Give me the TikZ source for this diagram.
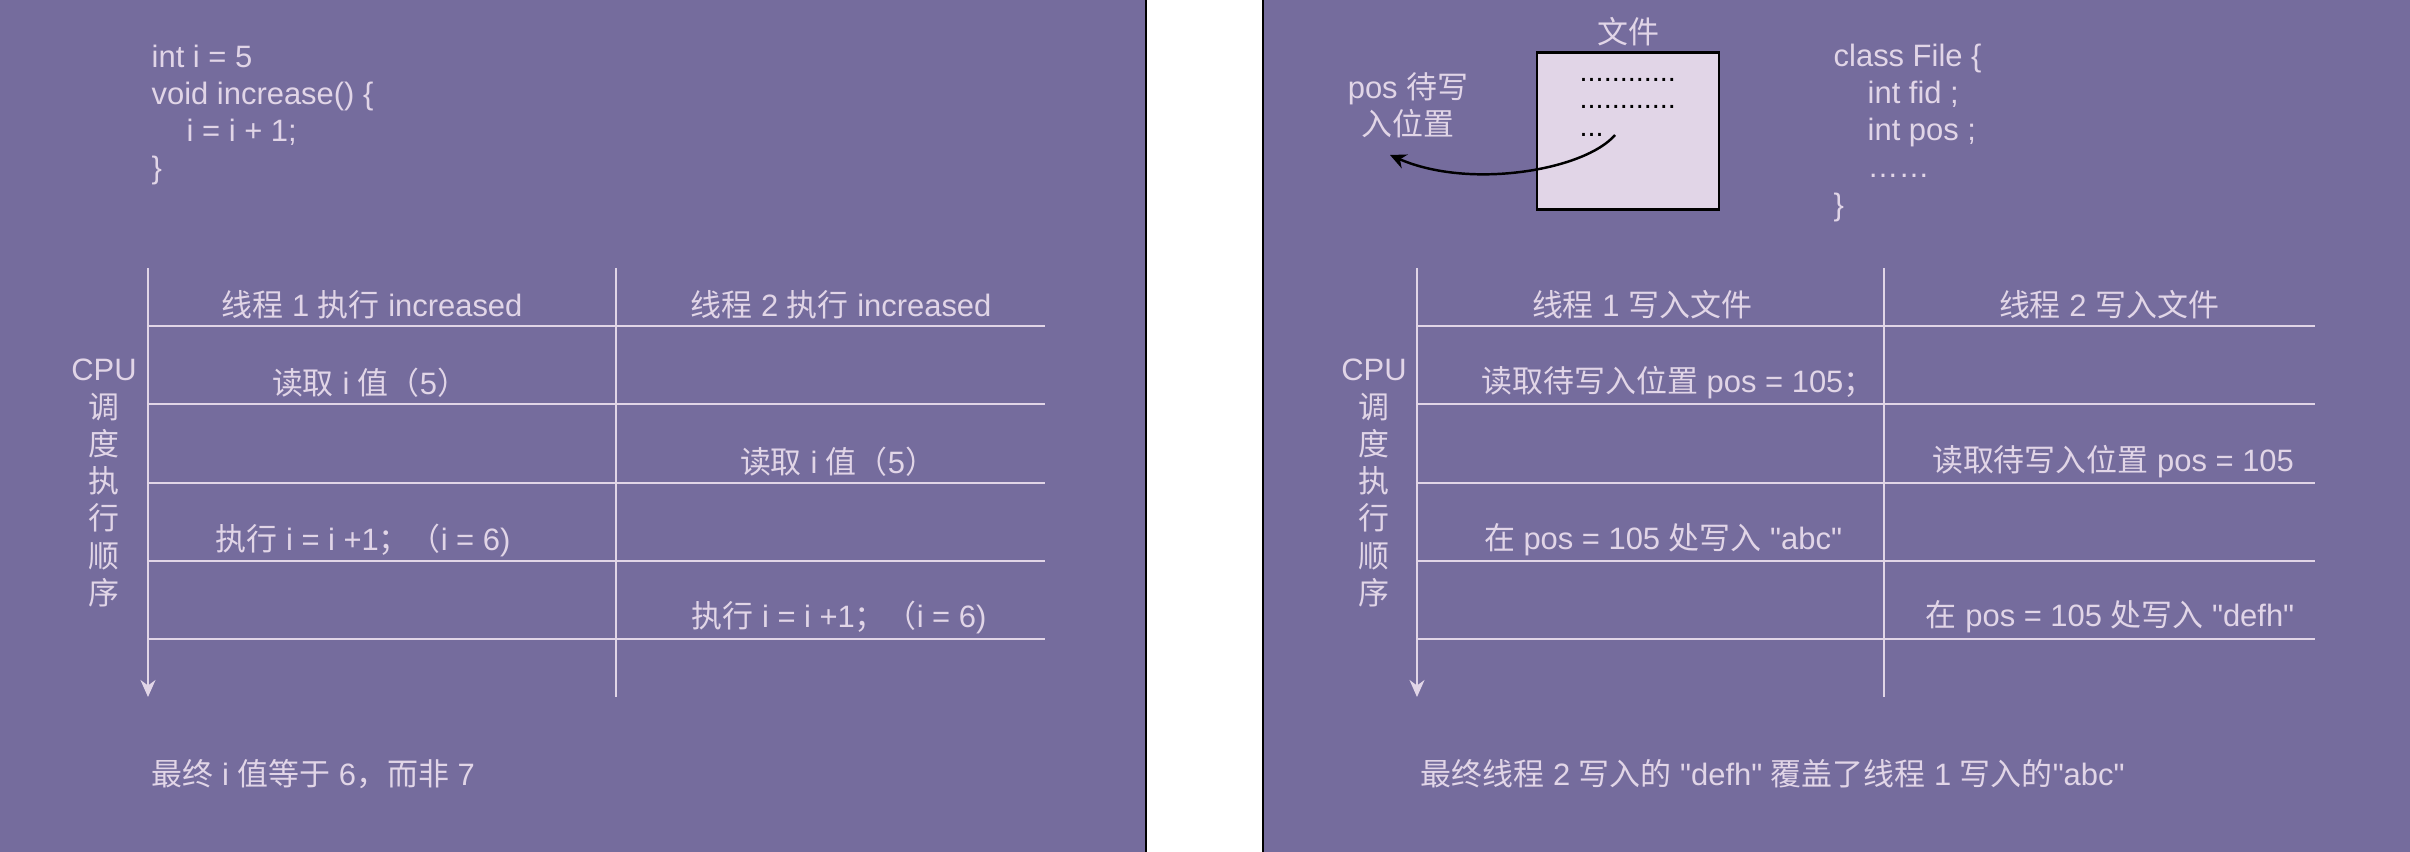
\documentclass[tikz,border=0pt]{standalone}
\usepackage{fontspec}
\setmainfont{Liberation Sans}[Ligatures=TeXOff]
\newfontfamily\zhfont{Noto Sans CJK SC}
\newcommand{\zh}[1]{{\zhfont #1}}
\newcommand{\diagfont}{\fontsize{8.8}{10.6}\selectfont}
\usepackage{xcolor}
\usepackage{tikz}
\usetikzlibrary{arrows.meta,positioning,calc}
\definecolor{panelpurple}{RGB}{117,108,157}
\definecolor{lilac}{RGB}{225,213,231}

\begin{document}
\begin{tikzpicture}[
    panel/.style={rectangle, draw=black, fill=panelpurple, line width=0.7pt},
    txt/.style={text=lilac, font=\diagfont, inner sep=0pt},
    codeblock/.style={txt, align=left, anchor=north west},
    rowline/.style={draw=lilac, line width=0.6pt},
    divider/.style={draw=lilac, line width=0.45pt},
    timeaxis/.style={divider, -{Stealth[length=1.7mm, width=1.5mm]}},
    filebox/.style={rectangle, draw=black, fill=lilac, line width=0.8pt, minimum width=1.82cm, minimum height=1.565cm},
    dotline/.style={anchor=base west, inner sep=0pt, text=black, font=\fontsize{8.2}{10}\selectfont},
    pointer/.style={draw=black, line width=0.7pt, -{Stealth[length=1.6mm, width=1.5mm]}}
]

\useasboundingbox (0,0) rectangle (24.1,-8.52);
\fill[white] (0,0) rectangle (24.1,-8.52);

% Panels
\draw[panel] (-0.1,0.1) rectangle (11.46,-8.62);
\draw[panel] (12.63,0.1) rectangle (24.2,-8.62);

% Left: increase()
\node[codeblock] (codeL) at (1.51,-0.44) {int i = 5\\void increase() \{\\\hspace*{0.35cm}i = i + 1;\\\}};

\coordinate (topL) at (1.48,-2.68);
\coordinate (endL) at (1.48,-6.97);
\draw[timeaxis] (topL) -- (endL);
\draw[divider] (6.16,-2.68) -- (6.16,-6.97);
\draw[rowline] (1.48,-3.26) -- (10.45,-3.26) (1.48,-4.04) -- (10.45,-4.04) (1.48,-4.83) -- (10.45,-4.83)
    (1.48,-5.61) -- (10.45,-5.61) (1.48,-6.39) -- (10.45,-6.39);

\node[txt] (headL1) at (3.72,-3.05) {\zh{线程} 1 \zh{执行} increased};
\node[txt] (headL2) at (8.41,-3.05) {\zh{线程} 2 \zh{执行} increased};
\node[txt] (readL1) at (3.70,-3.83) {\zh{读取} i \zh{值（}5\zh{）}};
\node[txt] (readL2) at (8.38,-4.62) {\zh{读取} i \zh{值（}5\zh{）}};
\node[txt] (incL1) at (3.63,-5.40) {\zh{执行} i = i +1\zh{；（}i = 6)};
\node[txt] (incL2) at (8.39,-6.17) {\zh{执行} i = i +1\zh{；（}i = 6)};
\node[txt, align=center] (cpuL) at (1.04,-4.83) {CPU\\\zh{调}\\\zh{度}\\\zh{执}\\\zh{行}\\\zh{顺}\\\zh{序}};
\node[txt, anchor=west] (resultL) at (1.51,-7.74) {\zh{最终} i \zh{值等于} 6\zh{，而非} 7};

% Right: File
\node[filebox] (file) at (16.28,-1.31) {};
\node[txt, above=0.05cm of file] (fileLabel) {\zh{文件}};
\node[dotline] (dotsA) at (15.79,-0.82) {............};
\node[dotline] (dotsB) at (15.79,-1.09) {............};
\node[dotline] (dotsC) at (15.79,-1.37) {...};
\node[txt, align=center] (posLabel) at (14.08,-1.05) {pos \zh{待写}\\\zh{入位置}};
\coordinate (posFrom) at (16.15,-1.35);
\coordinate (posTo) at (13.90,-1.55);
\draw[pointer] (posFrom) .. controls (15.85,-1.70) and (14.70,-1.90) .. (posTo);

\node[codeblock] (codeR) at (18.33,-0.43) {class File \{\\\hspace*{0.34cm}int fid ;\\\hspace*{0.34cm}int pos ;\\\hspace*{0.34cm}……\\\}};

\coordinate (topR) at (14.17,-2.68);
\coordinate (endR) at (14.17,-6.97);
\draw[timeaxis] (topR) -- (endR);
\draw[divider] (18.84,-2.68) -- (18.84,-6.97);
\draw[rowline] (14.17,-3.26) -- (23.15,-3.26) (14.17,-4.04) -- (23.15,-4.04) (14.17,-4.83) -- (23.15,-4.83)
    (14.17,-5.61) -- (23.15,-5.61) (14.17,-6.39) -- (23.15,-6.39);

\node[txt] (headR1) at (16.42,-3.05) {\zh{线程} 1 \zh{写入文件}};
\node[txt] (headR2) at (21.09,-3.05) {\zh{线程} 2 \zh{写入文件}};
\node[txt] (readR1) at (16.78,-3.83) {\zh{读取待写入位置} pos = 105\zh{；}};
\node[txt] (readR2) at (21.13,-4.62) {\zh{读取待写入位置} pos = 105};
\node[txt] (writeR1) at (16.63,-5.40) {\zh{在} pos = 105 \zh{处写入} "abc"};
\node[txt] (writeR2) at (21.10,-6.17) {\zh{在} pos = 105 \zh{处写入} "defh"};
\node[txt, align=center] (cpuR) at (13.74,-4.83) {CPU\\\zh{调}\\\zh{度}\\\zh{执}\\\zh{行}\\\zh{顺}\\\zh{序}};
\node[txt, anchor=west] (resultR) at (14.20,-7.74) {\zh{最终线程} 2 \zh{写入的} "defh" \zh{覆盖了线程} 1 \zh{写入的}"abc"};

\end{tikzpicture}
\end{document}
